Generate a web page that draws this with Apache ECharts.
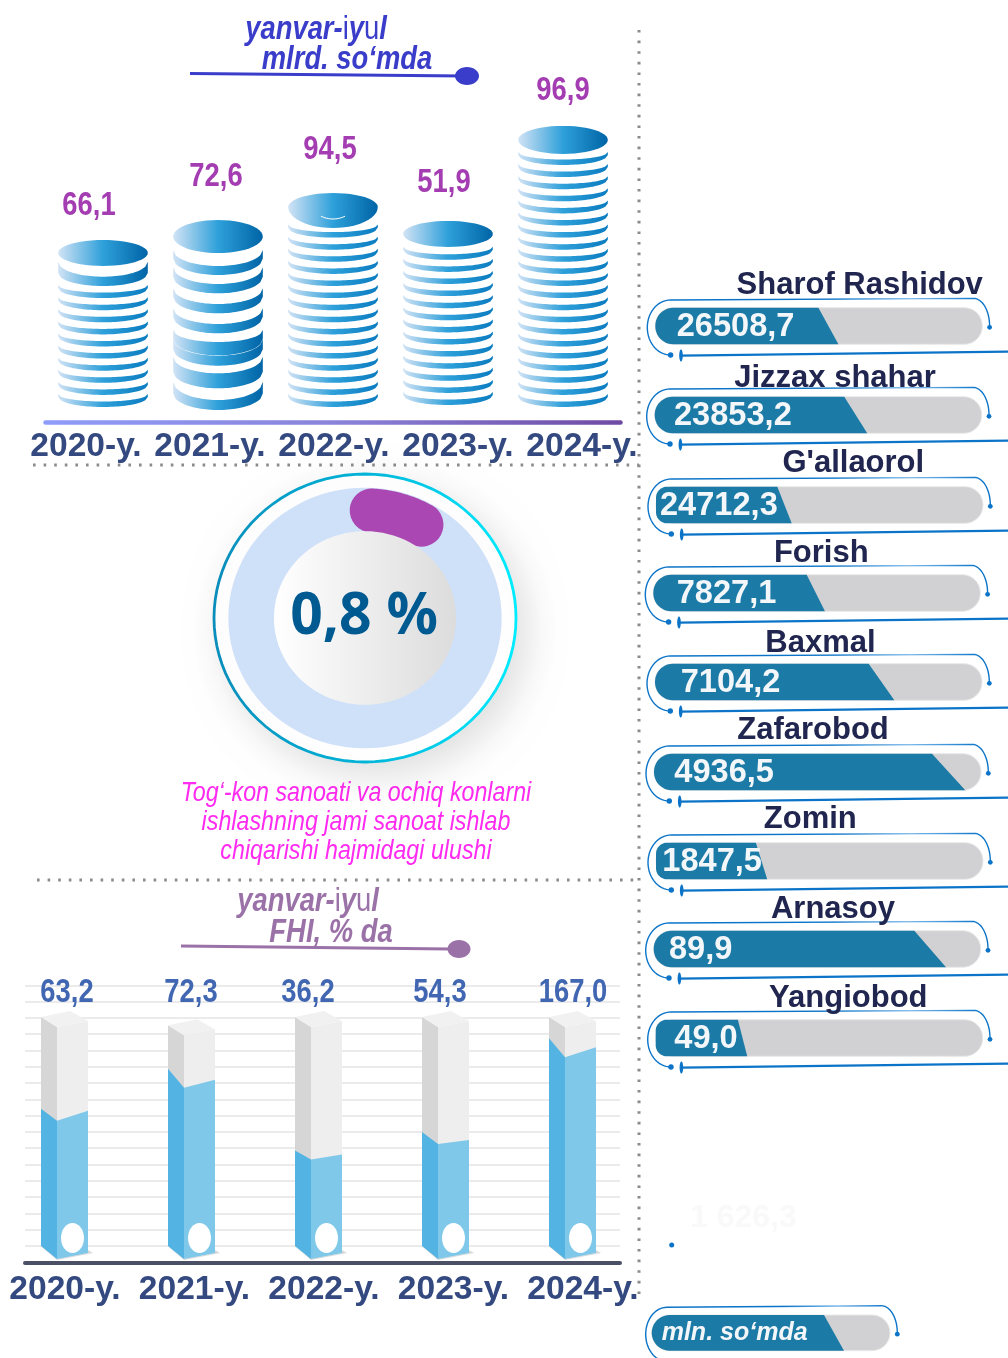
<!DOCTYPE html>
<html><head><meta charset="utf-8">
<style>html,body{margin:0;padding:0;background:#fff}#c{width:1008px;height:1358px}</style>
<script src="https://cdn.jsdelivr.net/npm/echarts@6/dist/echarts.min.js"></script>
</head><body><div id="c"></div>
<script>
// ---------- values ----------
const years = ['2020-y.','2021-y.','2022-y.','2023-y.','2024-y.'];
const coinValues = [66.1,72.6,94.5,51.9,96.9];
const coinDrawnTop = [61.3,68,77.1,67.7,99.7];      // stack height as drawn, in picture units
const coinCounts = [10,0,15,13,21];
const fhiValues = [63.2,72.3,36.2,54.3,167.0];
const fhiDrawnFill = [93,112,66,75,132];            // fill height as drawn
const fhiDrawnTube = [148,143,148,148,148];         // grey tube height as drawn
const shareValue = 0.8;
const shareDrawnStart = 3.4, shareDrawnSweep = 26.6;
const districts = ['Sharof Rashidov','Jizzax shahar',"G'allaorol",'Forish','Baxmal','Zafarobod','Zomin','Arnasoy','Yangiobod'];
const districtValues = ['26508,7','23853,2','24712,3','7827,1','7104,2','4936,5','1847,5','89,9','49,0'];
const districtDrawnFill = [56,65,41.5,52.5,73.2,95.2,34,89.4,28];   // % of track as drawn

// ---------- layout tables ----------
const SANS = '"Liberation Sans"';
const NARROW_K = 0.83;
const coinLabelLayout = [[-14,34],[-2,43],[-3,43],[-4,38],[0,35]];
const coinBottomGap = [15,12,15,17,15];
const coinCapRy = [13,16.5,14,13,14];
const coin2021 = [[410,381.7,400],[388.3,356.7,373.3],[365.7,339.3,355.7],[355.3,330,342],[333.3,308.3,324],[313.3,288.3,304],[293.3,267.3,284],[275,250,266]];
const fhiLabelDx = [0,-3,-13,-8,-2];
const fhiTilt = [[-2,10],[-11,8],[-4,5],[-8,4],[-9,10]];
const rowDx = [0.3,-0.3,1,-1.7,0,-1,1,-1.3,0.7];
const rowDy = [0,0,1,0,0,1,1,0,0];
const slant = [20,23,14.4,18.3,25.7,33.3,11.3,31.7,9.4];
const cornerR = [18,18,11,18,18,18,11,18,11];
const textDx = [21.4,19.3,4,23.4,25.7,20.3,6.3,15.3,18.6];
const nameCx = [859.7,835,853.3,821.3,820.5,813,810.3,833,848.3];
const nameDy = [22,18,23,21,20,23,23,21,21];

// ---------- helpers ----------
const G = echarts.graphic;
const fmt = v => v.toFixed(1).replace('.',',');
function arc(cx,cy,rx,ry,a0,a1,n){const p=[];n=n||24;for(let i=0;i<=n;i++){const a=(a0+(a1-a0)*i/n)*Math.PI/180;p.push([cx+rx*Math.cos(a),cy+ry*Math.sin(a)]);}return p;}
function coinGrad(cx,rx,end){return new G.LinearGradient(cx-rx,0,cx+rx,0,[{offset:0,color:'#d2e3f5'},{offset:.5,color:'#2ea0da'},{offset:1,color:end||'#0064a6'}],true);}
function crescent(cx,rx,B,top,mid,ry,fill){
  const pts=[];const n=36;
  for(let i=0;i<=n;i++){const t=-1+2*i/n;pts.push([cx+rx*t,B-ry+ry*Math.sqrt(1-t*t)]);}
  for(let i=n;i>=0;i--){const t=-1+2*i/n;pts.push([cx+rx*t,top+(mid-top)*Math.sqrt(1-t*t)]);}
  return {type:'polygon',shape:{points:pts},style:{fill}};
}
// blue outline, dots and tick around a pill
function outline(L,R,T,B,hasLower,leftGap){
  const mid=(T+B)/2, blue='#0b74c8', gap=leftGap===undefined?8:leftGap;
  const g=new G.LinearGradient(L,0,R,0,[{offset:0,color:blue},{offset:.55,color:blue},{offset:.78,color:'#7db9ea'},{offset:1,color:blue}],true);
  const pts=[].concat(
    arc(L+15.2,mid+1.5,15.2+gap,mid-T+9.2,90,270,30),
    arc(R-8.7,mid,16,mid-T+9.3,270,360,16));
  pts[0]=[L+15.2,B+10.7];
  const els=[{type:'polyline',shape:{points:pts},style:{stroke:g,fill:null,lineWidth:1.4}},
    {type:'circle',shape:{cx:R+7.3,cy:mid+1.3,r:2.4},style:{fill:blue}}];
  if(hasLower){
    els.push({type:'circle',shape:{cx:L+15.3,cy:B+10.7,r:2.7},style:{fill:blue}});
    els.push({type:'ellipse',shape:{cx:L+25.7,cy:B+11.3,rx:1.8,ry:6},style:{fill:blue}});
    els.push({type:'line',shape:{x1:L+25.7,y1:B+11.3,x2:1008,y2:B+7.3},style:{stroke:blue,lineWidth:2.4}});
  }
  return els;
}
function fillShape(L,T,B,ft,fb,r,color){
  const pts=[[L+r,T],[ft,T],[fb,B],[L+r,B]].concat(arc(L+r,B-r,r,r,90,180,10),arc(L+r,T+r,r,r,180,270,10));
  return {type:'polygon',shape:{points:pts},style:{fill:color}};
}
function pill(L,R,T,B){return {type:'rect',shape:{x:L,y:T,width:R-L,height:B-T,r:18},style:{fill:'#d1d1d3',stroke:'#e9e9ea',lineWidth:1}};}
const richTitle=(c,size)=>({b:{fill:c,font:`italic bold ${size}px ${SANS}`},r:{fill:c,font:`${size}px ${SANS}`}});
const narrowNote=(x,y,text,fill)=>({type:'text',silent:true,z:5,x,y,scaleX:NARROW_K,style:{x:0,y:0,align:'center',verticalAlign:'middle',fill,font:`italic bold 33px ${SANS}`,text}});
const narrowRich=(x,y,fill)=>({type:'text',silent:true,z:5,x,y,scaleX:NARROW_K,style:{x:0,y:0,align:'center',verticalAlign:'middle',rich:richTitle(fill,33),text:'{b|yanvar-}{r|i}{b|y}{r|u}{b|l}'}});
const pinkLine=(y,text)=>({type:'text',silent:true,x:356,y,scaleX:NARROW_K,style:{x:0,y:0,align:'center',verticalAlign:'middle',fill:'#ff2bf0',font:`italic 28px ${SANS}`,text}});

// ---------- render functions ----------
function renderCoins(params,api){
  const i=params.dataIndex, base=api.coord([i,0]), cx=base[0], rx=44.8;
  const B0=base[1]-coinBottomGap[i], top=api.coord([i,api.value(1)])[1], ry=coinCapRy[i];
  const fill=coinGrad(cx,rx), thin=coinGrad(cx,rx,'#0a7cc0'), ch=[];
  if(i===1){
    coin2021.forEach(c=>ch.push(crescent(cx,rx,c[0],c[1],c[2],16.5,fill)));
  }else{
    for(let k=0;k<coinCounts[i];k++){const b=B0-k*12.1;ch.push(crescent(cx,rx,b,b-13,b-5.5,10,thin));}
  }
  if(i===0) ch.push(crescent(cx,rx,286,261.7,276.7,13,fill));
  if(i===2){
    const pts=arc(cx,top+14,rx,14,180,360,24).concat(arc(cx,top+14,rx,21,0,180,24));
    ch.push({type:'polygon',shape:{points:pts},style:{fill}});
    ch.push({type:'polyline',shape:{points:arc(cx,top+5,24,21,60,120,12)},style:{stroke:'#fff',lineWidth:1,fill:null}});
  }else{
    ch.push({type:'polygon',shape:{points:arc(cx,top+ry,rx,ry,0,360,48)},style:{fill}});
  }
  ch.push({type:'text',x:cx+coinLabelLayout[i][0],y:top-coinLabelLayout[i][1],scaleX:NARROW_K,style:{text:fmt(coinValues[i]),x:0,y:0,textAlign:'center',textVerticalAlign:'middle',fill:'#a33db1',font:`bold 33px ${SANS}`}});
  return {type:'group',children:ch};
}
function renderFhi(params,api){
  const i=params.dataIndex, c=api.coord([i,0]), x0=c[0]-23.5, xm=c[0]-7.5, xr=c[0]+23.5;
  const yFill=api.coord([i,api.value(1)])[1], yTube=api.coord([i,fhiDrawnTube[i]])[1];
  const yB=c[1], tilt=fhiTilt[i], poly=(pts,fill)=>({type:'polygon',shape:{points:pts},style:{fill}});
  const bL=yB-16, bM=yB-3, bR=yB-9;
  return {type:'group',children:[
    poly([[x0,bL],[xm,bM+1],[xr+5,bR],[xr,bR-3]],'#d9d9d9'),
    poly([[x0,yTube-4],[xm,yTube+6],[xm,bM],[x0,bL]],'#d6d6d6'),
    poly([[xm,yTube+6],[xr,yTube],[xr,bR],[xm,bM]],'#eeeeee'),
    poly([[x0,yTube-4],[x0+29,yTube-10],[xr,yTube],[xm,yTube+6]],'#f1f1f1'),
    poly([[x0,yFill+tilt[0]],[xm,yFill+tilt[1]],[xm,bM],[x0,bL]],'#53b4e4'),
    poly([[xm,yFill+tilt[1]],[xr,yFill],[xr,bR],[xm,bM]],'#7fc8e9'),
    {type:'ellipse',shape:{cx:xm+15.5,cy:yB-24,rx:11.5,ry:15},style:{fill:'#fff'}},
    {type:'text',x:xm+10+fhiLabelDx[i],y:993,scaleX:NARROW_K,style:{text:fmt(fhiValues[i]),x:0,y:0,textAlign:'center',textVerticalAlign:'middle',fill:'#4267b2',font:`bold 33px ${SANS}`}}
  ]};
}
function renderDistrict(params,api){
  const i=params.dataIndex, zero=api.coord([0,i]), full=api.coord([100,i]), fb=api.coord([api.value(0),i])[0]+rowDx[i];
  const L=zero[0]+rowDx[i], R=full[0]+rowDx[i], cy=zero[1]+rowDy[i], T=cy-18.3, B=cy+18.3;
  return {type:'group',children:[
    pill(L,R,T,B),
    fillShape(L,T,B,fb-slant[i],fb,cornerR[i],'#1c7ba6'),
    ...outline(L,R,T,B,true),
    {type:'text',style:{text:districtValues[i],x:L+textDx[i],y:cy+1,textAlign:'left',textVerticalAlign:'middle',fill:'#f4f7fa',font:`bold 32.6px ${SANS}`}},
    {type:'text',style:{text:districts[i],x:nameCx[i],y:T-nameDy[i],textAlign:'center',textVerticalAlign:'middle',fill:'#20264f',font:`bold 31px ${SANS}`}}
  ]};
}
function renderShare(params,api){
  const ring=(k,n)=>{const p=[];n=n||96;for(let j=0;j<n;j++){const a=j/n*2*Math.PI;p.push(api.coord([k*Math.sin(a),k*Math.cos(a)]));}return p;};
  const arcPts=[];for(let j=0;j<=30;j++){const a=(shareDrawnStart+shareDrawnSweep*j/30)*Math.PI/180;arcPts.push(api.coord([.748*Math.sin(a),.748*Math.cos(a)]));}
  const c=api.coord([0,0]);
  return {type:'group',children:[
    {type:'polygon',shape:{points:ring(1)},style:{fill:'#fff',lineWidth:2.8,shadowBlur:36,shadowOffsetX:10,shadowOffsetY:12,shadowColor:'rgba(0,0,0,.12)',
      stroke:new G.LinearGradient(214,0,516,0,[{offset:0,color:'#0a8dbb'},{offset:.5,color:'#00b4d8'},{offset:1,color:'#00ecff'}],true)}},
    {type:'polygon',shape:{points:ring(.905)},style:{fill:'#cfe0f9'}},
    {type:'polyline',shape:{points:arcPts},style:{stroke:'#ab47b2',lineWidth:44,lineCap:'round',lineJoin:'round',fill:null}},
    {type:'polygon',shape:{points:ring(.603)},style:{fill:new G.LinearGradient(274,0,456,0,[{offset:0,color:'#ffffff'},{offset:1,color:'#dcdcdc'}],true)}},
    {type:'text',x:c[0]-1,y:c[1]-1,scaleX:.95,style:{text:fmt(shareValue)+' %',x:0,y:0,textAlign:'center',textVerticalAlign:'middle',fill:'#005a92',font:'bold 60px "Noto Sans"'}}
  ]};
}

// ---------- option ----------
const hiddenCat=(gridIndex)=>({type:'category',gridIndex,data:years,show:false});
const hiddenVal=(gridIndex,min,max)=>({type:'value',gridIndex,min,max,show:false,splitLine:{show:false}});
const yearLabels=(gridIndex,margin)=>({type:'category',gridIndex,data:years,axisLine:{show:false},axisTick:{show:false},
  axisLabel:{show:true,interval:0,margin,color:'#33497f',fontFamily:'Liberation Sans',fontWeight:'bold',fontSize:33.6}});
const option={
  animation:false,backgroundColor:'#fff',
  grid:[
    {left:45.5,width:575,top:125,height:297},
    {left:24,width:620,top:125,height:297},
    {left:214,width:302,top:474,height:288},
    {left:25,width:595,top:985.3,height:277},
    {left:1,width:635,top:985.3,height:276.7},
    {left:0.25,width:647.5,top:985.3,height:276.7},
    {left:655,width:327,top:281.5,height:801}
  ],
  xAxis:[
    {type:'category',gridIndex:0,data:years,axisTick:{show:false},axisLabel:{show:false},
      axisLine:{show:true,lineStyle:{width:4.5,cap:'round',color:new G.LinearGradient(46,0,622,0,[{offset:0,color:'#8f9cf9'},{offset:.5,color:'#8a83da'},{offset:1,color:'#6f4aa3'}],true)}}},
    yearLabels(1,8),
    {type:'value',gridIndex:2,min:-1,max:1,show:false,splitLine:{show:false}},
    {type:'category',gridIndex:3,data:years,axisTick:{show:false},axisLabel:{show:false},axisLine:{show:true,lineStyle:{color:'#4b5066',width:4,cap:'round'}}},
    hiddenCat(4),
    yearLabels(5,11),
    {type:'value',gridIndex:6,min:0,max:100,show:false,splitLine:{show:false}}
  ],
  yAxis:[
    hiddenVal(0,0,100),
    hiddenVal(1,0,100),
    hiddenVal(2,-1,1),
    {type:'value',gridIndex:3,min:0,max:170,interval:10,axisLine:{show:false},axisTick:{show:false},axisLabel:{show:false},splitLine:{show:true,lineStyle:{color:'#ebebeb',width:2}}},
    hiddenVal(4,0,170),
    hiddenVal(5,0,170),
    {type:'category',gridIndex:6,data:districts,inverse:true,show:false}
  ],
  series:[
    {type:'custom',xAxisIndex:0,yAxisIndex:0,data:coinDrawnTop.map((v,i)=>[i,v]),renderItem:renderCoins,silent:true,z:3},
    {type:'custom',xAxisIndex:2,yAxisIndex:2,data:[[0,0]],renderItem:renderShare,silent:true,z:3},
    {type:'custom',xAxisIndex:4,yAxisIndex:4,data:fhiDrawnFill.map((v,i)=>[i,v]),renderItem:renderFhi,silent:true,z:3},
    {type:'custom',xAxisIndex:6,yAxisIndex:6,data:districtDrawnFill.map((v,i)=>[v,i]),encode:{x:0,y:1},renderItem:renderDistrict,silent:true,z:3}
  ],
  graphic:{elements:[
    {type:'line',silent:true,z:1,shape:{x1:639,y1:30,x2:639,y2:1300},style:{stroke:'#8b8b8b',lineWidth:3,lineDash:[2.6,8]}},
    {type:'line',silent:true,z:1,shape:{x1:33,y1:465,x2:639,y2:465},style:{stroke:'#8b8b8b',lineWidth:3,lineDash:[2.6,8]}},
    {type:'line',silent:true,z:1,shape:{x1:37,y1:880,x2:639,y2:880},style:{stroke:'#8b8b8b',lineWidth:3,lineDash:[2.6,8]}},
    // titles
    narrowRich(316,30,'#3a3dc9'),
    narrowNote(347,60,'mlrd. so‘mda','#3a3dc9'),
    {type:'line',silent:true,shape:{x1:190,y1:73.5,x2:465,y2:76},style:{stroke:'#3a3dc9',lineWidth:3}},
    {type:'ellipse',silent:true,shape:{cx:467,cy:76,rx:12,ry:9},style:{fill:'#3a3dc9'}},
    narrowRich(308,902,'#9b72a8'),
    narrowNote(331,933,'FHI, % da','#9b72a8'),
    {type:'line',silent:true,shape:{x1:181,y1:946,x2:450,y2:949},style:{stroke:'#9b72a8',lineWidth:3}},
    {type:'ellipse',silent:true,shape:{cx:459,cy:949,rx:11.5,ry:9},style:{fill:'#9b72a8'}},
    // pink caption
    pinkLine(793,'Tog‘-kon sanoati va ochiq konlarni'),
    pinkLine(822,'ishlashning jami sanoat ishlab'),
    pinkLine(851,'chiqarishi hajmidagi ulushi'),
    // faint leftovers
    {type:'text',silent:true,style:{x:690,y:1218,align:'left',verticalAlign:'middle',fill:'#f9f9f9',font:`bold 32px ${SANS}`,text:'1 626,3'}},
    {type:'circle',silent:true,shape:{cx:671.7,cy:1245,r:2.5},style:{fill:'#0b74c8'}},
    // unit legend pill
    pill(651.7,890,1315,1350.7),
    fillShape(651.7,1315,1350.7,824,844,18,'#1c7ba6'),
    ...outline(651.7,890,1315,1350.7,false,6),
    {type:'text',silent:true,style:{x:661.7,y:1333.5,align:'left',verticalAlign:'middle',fill:'#f4f7fa',font:`italic bold 25px ${SANS}`,text:'mln. so‘mda'}}
  ]}
};
const chart=echarts.init(document.getElementById('c'),null,{renderer:'canvas',width:1008,height:1358});
chart.setOption(option);
</script></body></html>
